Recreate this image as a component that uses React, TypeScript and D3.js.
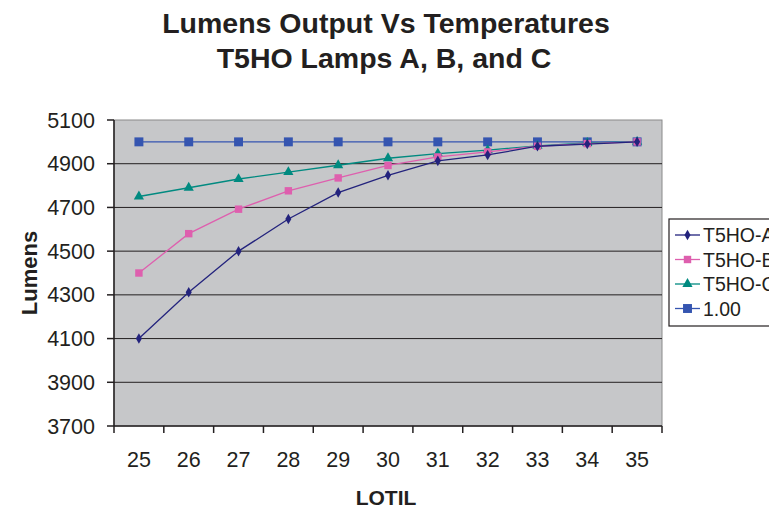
import * as React from 'react';
import * as d3 from 'd3';

const temps = ['25', '26', '27', '28', '29', '30', '31', '32', '33', '34', '35'];
const lampA = [4100, 4312, 4500, 4647, 4768, 4847, 4913, 4940, 4980, 4990, 5000];
const lampB = [4400, 4580, 4692, 4776, 4835, 4892, 4931, 4954, 4980, 4992, 5000];
const lampC = [4750, 4790, 4830, 4862, 4893, 4925, 4946, 4962, 4982, 4995, 5000];
const baseLine = [5000, 5000, 5000, 5000, 5000, 5000, 5000, 5000, 5000, 5000, 5000];
const yTicks = [3700, 3900, 4100, 4300, 4500, 4700, 4900, 5100];

const seriesNames = ['T5HO-A', 'T5HO-B', 'T5HO-C', '1.00'];
const seriesColors = ['#23237d', '#de5fae', '#008a80', '#3555b0'];
const seriesMarkers = ['diamond', 'square', 'triangle', 'square'];

const W = 769, H = 509;
const margin = { left: 114, right: 107, top: 120, bottom: 83 };

function marker(kind: string, idx: number) {
  const sym = kind === 'diamond' ? d3.symbolDiamond : kind === 'triangle' ? d3.symbolTriangle : d3.symbolSquare;
  const size = kind === 'diamond' ? 32 : kind === 'triangle' ? 45 : idx === 3 ? 80 : 55;
  return d3.symbol().type(sym).size(size)() as string;
}

const App: React.FC = () => {
  const ref = React.useRef<SVGSVGElement>(null);

  React.useEffect(() => {
    const svg = d3.select(ref.current);
    svg.selectAll('*').remove();
    const font = 'Liberation Sans, Arial, sans-serif';
    const ink = '#231f20';
    const pw = W - margin.left - margin.right;
    const ph = H - margin.top - margin.bottom;

    const x = d3.scaleBand().domain(temps).range([0, pw]);
    const y = d3.scaleLinear().domain([3700, 5100]).range([ph, 0]);

    svg.append('text').attr('x', 386).attr('y', 33).attr('text-anchor', 'middle')
      .attr('font-family', font).attr('font-weight', 'bold').attr('font-size', 28.5)
      .attr('fill', ink).text('Lumens Output Vs Temperatures');
    svg.append('text').attr('x', 384).attr('y', 68).attr('text-anchor', 'middle')
      .attr('font-family', font).attr('font-weight', 'bold').attr('font-size', 28.5)
      .attr('fill', ink).text('T5HO Lamps A, B, and C');

    const g = svg.append('g').attr('transform', `translate(${margin.left},${margin.top})`);

    g.append('rect').attr('width', pw).attr('height', ph)
      .attr('fill', '#c6c7c9').attr('stroke', '#8a8a8a').attr('stroke-width', 1);

    g.selectAll('line.grid').data(yTicks.slice(1, -1)).enter().append('line')
      .attr('x1', 0).attr('x2', pw)
      .attr('y1', d => y(d)).attr('y2', d => y(d))
      .attr('stroke', ink).attr('stroke-width', 1);

    // axes
    g.append('line').attr('x1', 0).attr('x2', 0).attr('y1', 0).attr('y2', ph)
      .attr('stroke', ink).attr('stroke-width', 1.5);
    g.append('line').attr('x1', 0).attr('x2', pw).attr('y1', ph).attr('y2', ph)
      .attr('stroke', ink).attr('stroke-width', 1.5);

    g.selectAll('line.ytick').data(yTicks).enter().append('line')
      .attr('x1', -7).attr('x2', 0)
      .attr('y1', d => y(d)).attr('y2', d => y(d))
      .attr('stroke', ink).attr('stroke-width', 1.5);
    g.selectAll('text.ylab').data(yTicks).enter().append('text')
      .attr('x', -19).attr('y', d => y(d) + 7.5).attr('text-anchor', 'end')
      .attr('font-family', font).attr('font-size', 21.5).attr('fill', ink)
      .text(d => String(d));

    const edges = temps.map(t => x(t) as number).concat([pw]);
    g.selectAll('line.xtick').data(edges).enter().append('line')
      .attr('x1', d => d).attr('x2', d => d).attr('y1', ph).attr('y2', ph + 7)
      .attr('stroke', ink).attr('stroke-width', 1.5);
    g.selectAll('text.xlab').data(temps).enter().append('text')
      .attr('x', d => (x(d) as number) + x.bandwidth() / 2).attr('y', ph + 41)
      .attr('text-anchor', 'middle')
      .attr('font-family', font).attr('font-size', 21.5).attr('fill', ink)
      .text(d => d);

    svg.append('text').attr('x', 386).attr('y', 505).attr('text-anchor', 'middle')
      .attr('font-family', font).attr('font-weight', 'bold').attr('font-size', 21)
      .attr('fill', ink).text('LOTIL');
    svg.append('text').attr('transform', `translate(37,${margin.top + ph / 2}) rotate(-90)`)
      .attr('text-anchor', 'middle')
      .attr('font-family', font).attr('font-weight', 'bold').attr('font-size', 22)
      .attr('fill', ink).text('Lumens');

    const all = [lampA, lampB, lampC, baseLine];
    const cx = (i: number) => (x(temps[i]) as number) + x.bandwidth() / 2;
    const line = d3.line<number>().x((_, i) => cx(i)).y(d => y(d));

    [3, 2, 1, 0].forEach(s => {
      const vals = all[s];
      g.append('path').attr('d', line(vals) as string).attr('fill', 'none')
        .attr('stroke', seriesColors[s]).attr('stroke-width', 1.3);
      g.selectAll(`path.m${s}`).data(vals).enter().append('path')
        .attr('d', marker(seriesMarkers[s], s))
        .attr('transform', (d, i) => `translate(${cx(i)},${y(d)})`)
        .attr('fill', seriesColors[s]);
    });

    // legend (clipped by the right edge, as in the reference)
    const lg = svg.append('g').attr('transform', 'translate(669,219)');
    lg.append('rect').attr('width', 120).attr('height', 107).attr('fill', '#fff')
      .attr('stroke', ink).attr('stroke-width', 1.2);
    seriesNames.forEach((n, s) => {
      const yy = 16 + s * 24.5;
      lg.append('line').attr('x1', 6).attr('x2', 31).attr('y1', yy).attr('y2', yy)
        .attr('stroke', seriesColors[s]).attr('stroke-width', 1.3);
      lg.append('path').attr('d', marker(seriesMarkers[s], s))
        .attr('transform', `translate(18.5,${yy})`).attr('fill', seriesColors[s]);
      lg.append('text').attr('x', 34).attr('y', yy + 7)
        .attr('font-family', font).attr('font-size', 19.5).attr('fill', ink).text(n);
    });
  }, []);

  return (
    <svg ref={ref} width={W} height={H} style={{ position: 'absolute', left: 0, top: 0 }} />
  );
};

export default App;
